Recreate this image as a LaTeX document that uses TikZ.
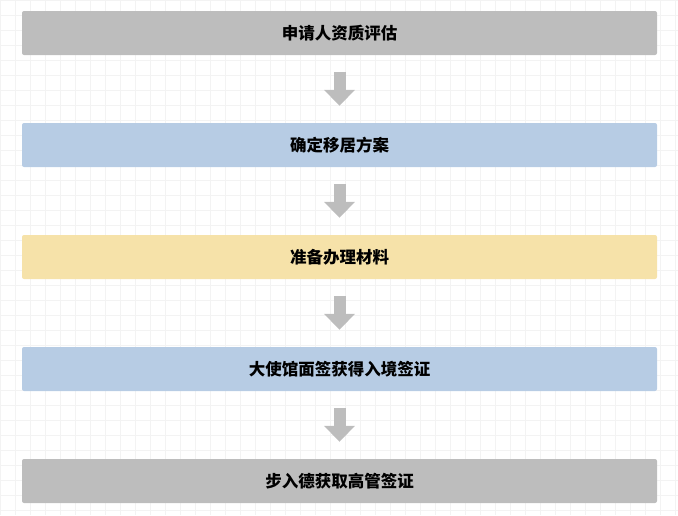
\documentclass[tikz,border=0pt]{standalone}
\usepackage{fontspec}
\setmainfont{Noto Sans CJK SC}
\usetikzlibrary{positioning}
\usetikzlibrary{arrows.meta}
\definecolor{boxgray}{HTML}{BDBDBD}
\definecolor{boxblue}{HTML}{B7CCE4}
\definecolor{boxyellow}{HTML}{F6E2A9}
\definecolor{gridline}{HTML}{F3F3F3}
\tikzset{
  stage/.style={rounded corners=2pt, minimum width=635pt, minimum height=44pt, font=\fontsize{16.5pt}{20pt}\selectfont\bfseries},
  flow/.style={draw=boxgray, line width=12pt, -{Triangle[width=30pt,length=16pt]}, shorten <=17pt, shorten >=17pt}
}
\begin{document}
\begin{tikzpicture}[x=1pt,y=-1pt]
\useasboundingbox (0,0) rectangle (678,515);
\draw[gridline, step=15pt] (0,0) grid (678,515);
\node[stage, fill=boxgray](S1) at (339.5,33){申请人资质评估};
\node[stage, fill=boxblue](S2) at (339.5,145){确定移居方案};
\node[stage, fill=boxyellow](S3) at (339.5,257){准备办理材料};
\node[stage, fill=boxblue](S4) at (339.5,369){大使馆面签获得入境签证};
\node[stage, fill=boxgray](S5) at (339.5,481){步入德获取高管签证};

\draw[flow] (S1) -- (S2);
\draw[flow] (S2) -- (S3);
\draw[flow] (S3) -- (S4);
\draw[flow] (S4) -- (S5);
\end{tikzpicture}
\end{document}
